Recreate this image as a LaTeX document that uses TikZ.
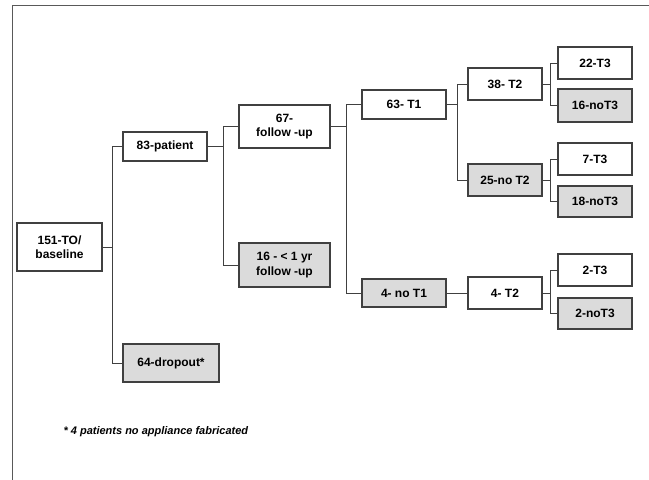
\documentclass[tikz,border=0pt]{standalone}
\usepackage{fontspec}
\setmainfont{Liberation Sans}
\usepackage{tikz}

\begin{document}
\begin{tikzpicture}[x=1pt, y=-1pt,
  box/.style={draw=black!75, line width=1.2pt, fill=white, align=center,
    inner sep=0pt, font=\fontsize{12}{14.5}\selectfont\bfseries},
  shaded/.style={box, fill=black!14},
  link/.style={draw=black!75, line width=1pt}]
  \useasboundingbox (0,0) rectangle (649,480);

  % Frame (top and left only)
  \draw[black!65, line width=1.3pt] (649,5.5) -- (12.5,5.5) -- (12.5,480);

  % Baseline and first split
  \node[box, minimum width=85, minimum height=48] (base) at (59.5,247) {151-TO/\\baseline};
  \node[box, minimum width=84, minimum height=29] (patient) at (165,146.5) {83-patient};
  \node[shaded, minimum width=96, minimum height=38] (dropout) at (171,363) {64-dropout*};

  % Follow-up
  \node[box, minimum width=91, minimum height=43] (follow) at (284.5,126.5) {67-\\follow -up};
  \node[shaded, minimum width=91, minimum height=44] (lessyr) at (284.5,265) {16 - < 1 yr\\follow -up};

  % T1
  \node[box, minimum width=84, minimum height=29] (tone) at (404,104.5) {63- T1};
  \node[shaded, minimum width=84, minimum height=28] (notone) at (404,293) {4- no T1};

  % T2
  \node[box, minimum width=74, minimum height=32] (ttwoa) at (505,84) {38- T2};
  \node[shaded, minimum width=74, minimum height=32] (nottwo) at (505,180) {25-no T2};
  \node[box, minimum width=74, minimum height=32] (ttwob) at (505,293) {4- T2};

  % T3
  \node[box, minimum width=74, minimum height=32] (tthreea) at (595,63) {22-T3};
  \node[shaded, minimum width=74, minimum height=33] (notthreea) at (595,105.5) {16-noT3};
  \node[box, minimum width=74, minimum height=32] (tthreeb) at (595,159) {7-T3};
  \node[shaded, minimum width=74, minimum height=31] (notthreeb) at (595,201.5) {18-noT3};
  \node[box, minimum width=74, minimum height=32] (tthreec) at (595,270) {2-T3};
  \node[shaded, minimum width=74, minimum height=31] (notthreec) at (595,313.5) {2-noT3};

  % Connectors
  \draw[link] (base.east) -- ++(10,0) |- (patient.west);
  \draw[link] (base.east) -- ++(10,0) |- (dropout.west);
  \draw[link] (patient.east) -- ++(16,0) |- (follow.west);
  \draw[link] (patient.east) -- ++(16,0) |- (lessyr.west);
  \draw[link] (follow.east) -- ++(16,0) |- (tone.west);
  \draw[link] (follow.east) -- ++(16,0) |- (notone.west);
  \draw[link] (tone.east) -- ++(11,0) |- (ttwoa.west);
  \draw[link] (tone.east) -- ++(11,0) |- (nottwo.west);
  \draw[link] (notone.east) -- (ttwob.west);
  \draw[link] (ttwoa.east) -- ++(8,0) |- (tthreea.west);
  \draw[link] (ttwoa.east) -- ++(8,0) |- (notthreea.west);
  \draw[link] (nottwo.east) -- ++(8,0) |- (tthreeb.west);
  \draw[link] (nottwo.east) -- ++(8,0) |- (notthreeb.west);
  \draw[link] (ttwob.east) -- ++(8,0) |- (tthreec.west);
  \draw[link] (ttwob.east) -- ++(8,0) |- (notthreec.west);

  % Footnote
  \node[anchor=west, font=\fontsize{11}{13}\selectfont\bfseries\itshape] (note) at (60,432)
    {* 4 patients no appliance fabricated};
\end{tikzpicture}
\end{document}
